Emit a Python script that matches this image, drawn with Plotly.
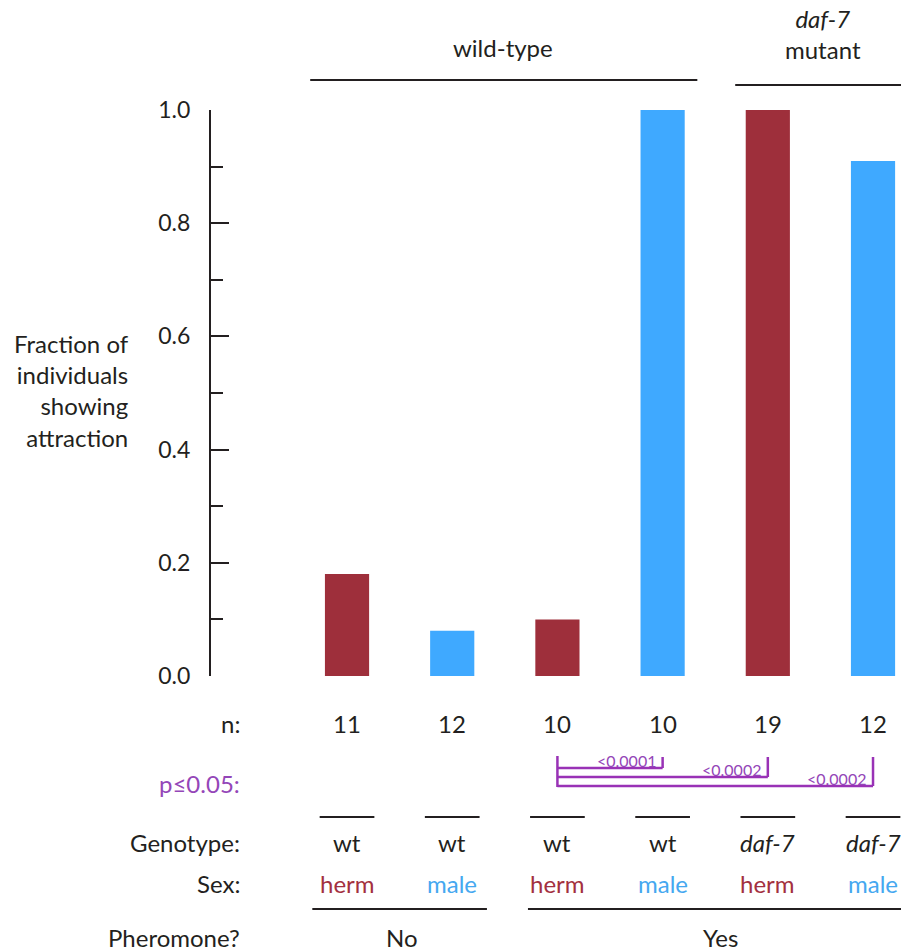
import plotly.graph_objects as go

# ---- data ----
groups = ["wt herm (no pheromone)", "wt male (no pheromone)", "wt herm", "wt male", "daf-7 herm", "daf-7 male"]
fraction = [0.18, 0.08, 0.10, 1.0, 1.0, 0.91]
n_values = ["11", "12", "10", "10", "19", "12"]
genotype = ["wt", "wt", "wt", "wt", "<i>daf-7</i>", "<i>daf-7</i>"]
sex = ["herm", "male", "herm", "male", "herm", "male"]
comparisons = [(2, 3, "<0.0001"), (2, 4, "<0.0002"), (2, 5, "<0.0002")]
pheromone_groups = ["No", "Yes"]

RED = "#9e2f3b"
BLUE = "#3fa9ff"
RED_T = "#a3303f"
BLUE_T = "#45a8f0"
PURPLE = "#9932b6"
PURPLE_T = "#9446b8"
BLACK = "#231f20"
FONT = "Lato"
FS = 24

colors = [RED if s == "herm" else BLUE for s in sex]
xs = list(range(len(fraction)))

fig = go.Figure()
fig.add_trace(go.Bar(x=xs, y=fraction, marker=dict(color=colors, line=dict(width=0)),
                     width=0.42, hoverinfo="skip"))

# pixel -> paper y helper (plot area from 110 to 676 px)
TOP, BOT = 110, 676
def py(p):
    return (BOT - p) / (BOT - TOP)

ann = []
shapes = []
def label(x, y, text, color=BLACK, size=FS, xanchor="center", xref="x", yanchor="middle", **kw):
    ann.append(dict(x=x, y=y, xref=xref, yref="paper", text=text, showarrow=False,
                    font=dict(family=FONT, size=size, color=color),
                    xanchor=xanchor, yanchor=yanchor, **kw))

def hline(x0, x1, y, color=BLACK, width=2):
    shapes.append(dict(type="line", xref="x", yref="paper", x0=x0, x1=x1, y0=y, y1=y,
                       line=dict(color=color, width=width)))

def vline(x, y0, y1, color, width=2):
    shapes.append(dict(type="line", xref="x", yref="paper", x0=x, x1=x, y0=y0, y1=y1,
                       line=dict(color=color, width=width)))

# row labels
ROWX = -1.0
label(ROWX, py(723), "n:", xanchor="right")
label(ROWX, py(783), "p≤0.05:", color=PURPLE_T, xanchor="right")
label(ROWX, py(843), "Genotype:", xanchor="right")
label(ROWX, py(883), "Sex:", xanchor="right")
label(ROWX, py(937), "Pheromone?", xanchor="right")

for i in xs:
    label(i, py(723), n_values[i])
    label(i, py(843), genotype[i])
    label(i, py(883), sex[i], color=RED_T if sex[i] == "herm" else BLUE_T)
    hline(i - 0.26, i + 0.26, py(817))

# pheromone groups
hline(-0.33, 1.33, py(909))
label(0.52, py(937), pheromone_groups[0])
hline(1.72, 5.27, py(909))
label(3.55, py(937), pheromone_groups[1])

# strain groups on top
hline(-0.35, 3.33, py(80))
label(1.48, py(47), "wild-type")
hline(3.69, 5.27, py(85))
label(4.52, py(34), "<i>daf-7</i><br>mutant")

# significance brackets
h_ys = [768, 777, 786]
vline(2, py(756), py(787), PURPLE, 2.5)
for (a, b, txt), hy in zip(comparisons, h_ys):
    hline(a, b, py(hy), color=PURPLE, width=2.5)
    vline(b, py(757), py(hy), PURPLE, 2.5)
    label(b, py(hy), txt, color=PURPLE_T, size=16, xanchor="right", yanchor="bottom",
          xshift=-5, yshift=-4)

# y title
label(-0.116, py(390), "Fraction of<br>individuals<br>showing<br>attraction",
      xref="paper", xanchor="right", align="right")

fig.update_layout(
    width=901, height=952,
    margin=dict(l=211, r=0, t=TOP, b=952 - BOT),
    paper_bgcolor="white", plot_bgcolor="white",
    showlegend=False,
    font=dict(family=FONT, color=BLACK),
    annotations=ann, shapes=shapes,
    xaxis=dict(range=[-1.293, 5.266], visible=False, fixedrange=True),
    yaxis=dict(range=[0, 1.0], showline=True, linecolor=BLACK, linewidth=2,
               ticks="inside", ticklen=18, tickwidth=2, tickcolor=BLACK,
               dtick=0.2, tick0=0, tickformat=".1f", showgrid=False, zeroline=False,
               fixedrange=True,
               tickfont=dict(family=FONT, size=23, color=BLACK), ticklabelstandoff=14,
               minor=dict(dtick=0.1, ticks="inside", ticklen=12, tickwidth=2, tickcolor=BLACK,
                          showgrid=False)),
)

fig.write_html("out.html", config={"displayModeBar": False},
               post_script="document.body.style.margin='0px';")
